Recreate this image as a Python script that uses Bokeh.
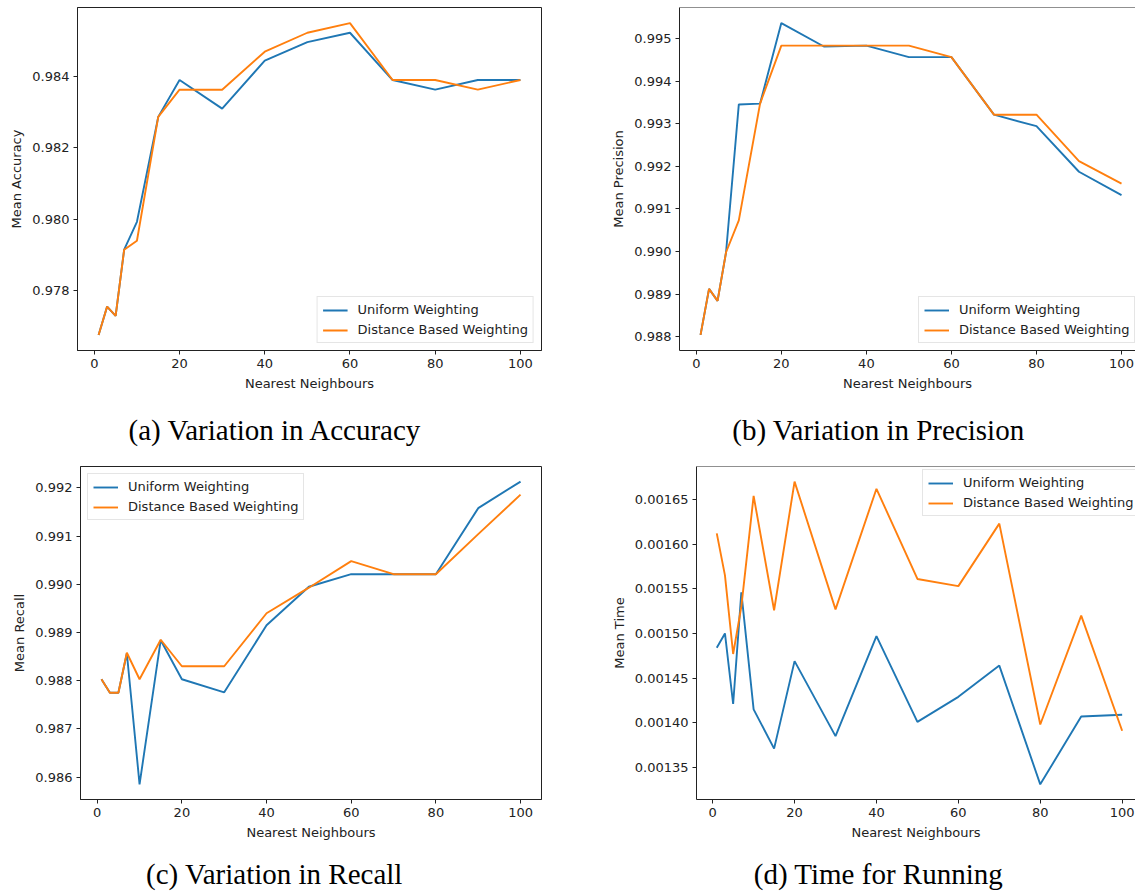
from bokeh.plotting import figure
from bokeh.layouts import column, row
from bokeh.models import (Range1d, FixedTicker, PrintfTickFormatter, Legend,
                          LegendItem, Span)
from bokeh.core.properties import value
from bokeh.embed import file_html
from bokeh.resources import INLINE

# ---------------- data ----------------
neighbours = [1, 3, 5, 7, 10, 15, 20, 30, 40, 50, 60, 70, 80, 90, 100]
x_ticks = [0, 20, 40, 60, 80, 100]

accuracy_uniform = [0.97677, 0.97756, 0.97730, 0.97915, 0.97993, 0.98286, 0.98389, 0.98309,
                    0.98443, 0.98495, 0.98521, 0.98389, 0.98362, 0.98389, 0.98389]
accuracy_distance = [0.97677, 0.97756, 0.97730, 0.97915, 0.97940, 0.98286, 0.98362, 0.98362,
                     0.98468, 0.98521, 0.98548, 0.98389, 0.98389, 0.98362, 0.98389]
accuracy_ticks = [0.978, 0.980, 0.982, 0.984]

precision_uniform = [0.98804, 0.98912, 0.98884, 0.98998, 0.99345, 0.99347, 0.99536, 0.99481,
                     0.99483, 0.99456, 0.99456, 0.99321, 0.99294, 0.99187, 0.99132]
precision_distance = [0.98804, 0.98912, 0.98884, 0.98998, 0.99073, 0.99347, 0.99483, 0.99483,
                      0.99483, 0.99483, 0.99456, 0.99321, 0.99321, 0.99212, 0.99159]
precision_ticks = [0.988, 0.989, 0.990, 0.991, 0.992, 0.993, 0.994, 0.995]

recall_uniform = [0.98803, 0.98775, 0.98775, 0.98857, 0.98585, 0.98884, 0.98803, 0.98776,
                  0.98915, 0.98995, 0.99021, 0.99021, 0.99021, 0.99158, 0.99213]
recall_distance = [0.98803, 0.98775, 0.98775, 0.98858, 0.98803, 0.98885, 0.98830, 0.98830,
                   0.98940, 0.98993, 0.99048, 0.99021, 0.99021, 0.99104, 0.99186]
recall_ticks = [0.986, 0.987, 0.988, 0.989, 0.990, 0.991, 0.992]

time_uniform = [0.001484, 0.001500, 0.001421, 0.001546, 0.001415, 0.001371, 0.001469, 0.001385,
                0.001497, 0.001401, 0.001429, 0.001464, 0.001331, 0.001407, 0.001409]
time_distance = [0.001612, 0.001565, 0.001477, 0.001530, 0.001654, 0.001526, 0.001670, 0.001527,
                 0.001662, 0.001561, 0.001553, 0.001623, 0.001398, 0.001520, 0.001391]
time_ticks = [0.00135, 0.00140, 0.00145, 0.00150, 0.00155, 0.00160, 0.00165]

series_labels = ["Uniform Weighting", "Distance Based Weighting"]
captions = ["(a) Variation in Accuracy", "(b) Variation in Precision",
            "(c) Variation in Recall", "(d) Time for Running"]
y_labels = ["Mean Accuracy", "Mean Precision", "Mean Recall", "Mean Time"]
x_label = "Nearest Neighbours"

# ---------------- style ----------------
BLUE = "#1f77b4"
ORANGE = "#ff7f0e"
INK = "#222222"
FONT = "DejaVu Sans"
FS = "13px"


def make_panel(uni, dist, yticks, yfmt, ylabel, width, height, borders,
               x_end, clipped_right, legend_loc):
    lo = min(min(uni), min(dist))
    hi = max(max(uni), max(dist))
    pad = 0.05 * (hi - lo)
    p = figure(width=width, height=height, output_backend="svg", toolbar_location=None,
               x_range=Range1d(-3.95, x_end), y_range=Range1d(lo - pad, hi + pad),
               min_border_left=borders[0], min_border_right=borders[1],
               min_border_top=borders[2], min_border_bottom=borders[3])
    p.grid.visible = False
    p.background_fill_color = "white"
    p.border_fill_color = "white"
    if clipped_right:
        p.outline_line_color = None
        p.add_layout(Span(location=hi + pad, dimension="width", line_color=INK, line_width=1))
    else:
        p.outline_line_color = INK
        p.outline_line_width = 1
        p.outline_line_alpha = 1.0

    p.xaxis.ticker = FixedTicker(ticks=x_ticks)
    p.yaxis.ticker = FixedTicker(ticks=yticks)
    p.yaxis.formatter = PrintfTickFormatter(format=yfmt)
    p.xaxis.axis_label = x_label
    p.yaxis.axis_label = ylabel
    for ax in (p.xaxis[0], p.yaxis[0]):
        ax.axis_line_color = INK
        ax.axis_line_width = 1
        ax.major_tick_line_color = INK
        ax.major_tick_out = 4
        ax.major_tick_in = 0
        ax.minor_tick_line_color = None
        ax.major_label_text_font = FONT
        ax.major_label_text_font_size = FS
        ax.major_label_text_color = INK
        ax.major_label_standoff = 4
        ax.axis_label_text_font = FONT
        ax.axis_label_text_font_size = FS
        ax.axis_label_text_font_style = "normal"
        ax.axis_label_text_color = INK
        ax.axis_label_standoff = 5

    r1 = p.line(neighbours, uni, line_color=BLUE, line_width=1.9)
    r2 = p.line(neighbours, dist, line_color=ORANGE, line_width=1.9)

    legend = Legend(items=[LegendItem(label=series_labels[0], renderers=[r1]),
                           LegendItem(label=series_labels[1], renderers=[r2])],
                    location=legend_loc, margin=7, padding=5, spacing=5,
                    glyph_width=25, glyph_height=14, label_height=14, label_standoff=10,
                    label_text_font=FONT, label_text_font_size=FS, label_text_color=INK,
                    border_line_color="#cccccc", border_line_width=1,
                    background_fill_color="white", background_fill_alpha=0.8)
    p.add_layout(legend)
    return p


def make_caption(text, width, height, cx, cy):
    c = figure(width=width, height=height, output_backend="svg", toolbar_location=None,
               x_range=Range1d(0, width), y_range=Range1d(0, height),
               x_axis_location=None, y_axis_location=None,
               min_border_left=0, min_border_right=0, min_border_top=0, min_border_bottom=0)
    c.grid.visible = False
    c.outline_line_color = None
    c.text(x=[cx], y=[cy], text=[text], text_font=value("Liberation Serif"),
           text_font_size=value("29px"), text_color="black",
           text_align="center", text_baseline="middle")
    return c


pa = make_panel(accuracy_uniform, accuracy_distance, accuracy_ticks, "%.3f", y_labels[0],
                608, 400, (77, 67, 5, 50), 104.95, False, "bottom_right")
pb = make_panel(precision_uniform, precision_distance, precision_ticks, "%.3f", y_labels[1],
                527, 400, (71, 0, 7, 50), 103.29, True, (239, 7))
pc = make_panel(recall_uniform, recall_distance, recall_ticks, "%.3f", y_labels[2],
                608, 396, (80, 67, 7, 45), 104.95, False, "top_left")
pd = make_panel(time_uniform, time_distance, time_ticks, "%.5f", y_labels[3],
                527, 396, (84, 0, 18, 45), 103.26, True, (226, 283))

ca = make_caption(captions[0], 608, 48, 275, 19)
cb = make_caption(captions[1], 527, 48, 270, 19)
cc = make_caption(captions[2], 608, 48, 274, 19)
cd = make_caption(captions[3], 527, 48, 270, 19)

layout = column(row(pa, pb), row(ca, cb), row(pc, pd), row(cc, cd))

with open("out.html", "w") as f:
    f.write(file_html(layout, INLINE))
